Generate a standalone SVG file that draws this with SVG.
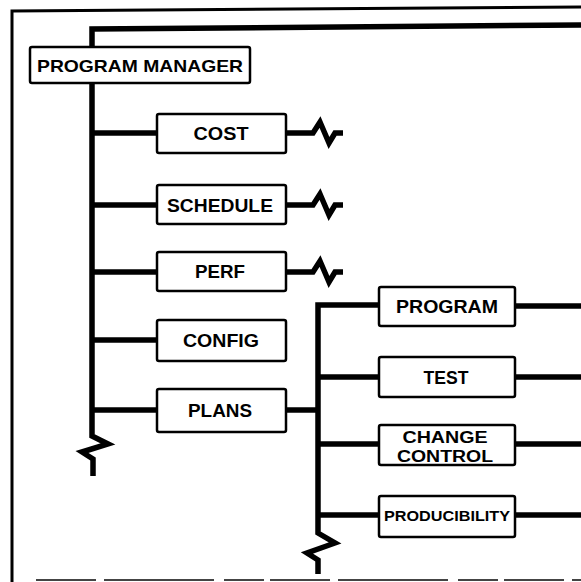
<svg xmlns="http://www.w3.org/2000/svg" width="581" height="582" viewBox="0 0 581 582">
<style>
.box{fill:#fff;stroke:#000;stroke-width:2.5}
.lbl{font-family:"Liberation Sans",Arial,sans-serif;font-weight:bold;font-size:18px;fill:#000;text-anchor:middle}
.s17{font-size:17px}
.s16{font-size:16px}
.s15{font-size:15px}
.ln{fill:none;stroke:#000;stroke-width:5.5;stroke-linejoin:miter;stroke-linecap:butt}
.thin{fill:none;stroke:#000;stroke-width:3}
</style>
<rect width="581" height="582" fill="#fff"/>
<g id="frame">
<path class="thin" d="M12,582 V11 L581,7"/>
<path d="M36,580 H581" stroke="#444" stroke-width="2" stroke-dasharray="60,8,110,10,40,6"/>
</g>
<g id="connectors">
<path class="ln" d="M581,25 L92,29 V436 L108,444 L82,452 L93,459 V476"/>
<path class="ln" d="M92,133 H157"/>
<path class="ln" d="M92,205 H157"/>
<path class="ln" d="M92,272 H157"/>
<path class="ln" d="M92,340 H157"/>
<path class="ln" d="M92,410 H157"/>
<path class="ln" d="M286,133 H313 L320,122 L329,143 L335,133 H343"/>
<path class="ln" d="M286,205 H313 L320,194 L329,215 L335,205 H343"/>
<path class="ln" d="M286,272 H313 L320,261 L329,282 L335,272 H343"/>
<path class="ln" stroke-width="4.5" d="M286,410 H318"/>
<path class="ln" d="M379,305 H318 V533 L335,543 L307,553 L318,560 V574"/>
<path class="ln" d="M318,377 H379"/>
<path class="ln" d="M318,444 H379"/>
<path class="ln" d="M318,515 H379"/>
<path class="ln" d="M515,306 H581"/>
<path class="ln" d="M515,377 H581"/>
<path class="ln" d="M515,444 H581"/>
<path class="ln" d="M515,515 H581"/>
</g>
<g id="program-manager">
<rect class="box" x="30" y="47" width="220" height="36" rx="2"/>
<text class="lbl s17" x="140" y="71.5" textLength="206" lengthAdjust="spacingAndGlyphs">PROGRAM MANAGER</text>
</g>
<g id="cost">
<rect class="box" x="157" y="114" width="129" height="39" rx="2"/>
<text class="lbl" x="221" y="140" textLength="55" lengthAdjust="spacingAndGlyphs">COST</text>
</g>
<g id="schedule">
<rect class="box" x="157" y="185" width="129" height="39" rx="2"/>
<text class="lbl" x="220" y="212" textLength="106" lengthAdjust="spacingAndGlyphs">SCHEDULE</text>
</g>
<g id="perf">
<rect class="box" x="157" y="252" width="129" height="39" rx="2"/>
<text class="lbl" x="220" y="278" textLength="50" lengthAdjust="spacingAndGlyphs">PERF</text>
</g>
<g id="config">
<rect class="box" x="157" y="320" width="129" height="41" rx="2"/>
<text class="lbl" x="221" y="347" textLength="76" lengthAdjust="spacingAndGlyphs">CONFIG</text>
</g>
<g id="plans">
<rect class="box" x="157" y="389" width="129" height="43" rx="2"/>
<text class="lbl" x="220" y="417" textLength="64" lengthAdjust="spacingAndGlyphs">PLANS</text>
</g>
<g id="program">
<rect class="box" x="379" y="287" width="136" height="39" rx="2"/>
<text class="lbl" x="447" y="313" textLength="102" lengthAdjust="spacingAndGlyphs">PROGRAM</text>
</g>
<g id="test">
<rect class="box" x="379" y="357" width="136" height="40" rx="2"/>
<text class="lbl" x="446" y="384" textLength="45" lengthAdjust="spacingAndGlyphs">TEST</text>
</g>
<g id="change-control">
<rect class="box" x="379" y="425" width="136" height="40" rx="2"/>
<text class="lbl s16" x="445" y="443" textLength="85" lengthAdjust="spacingAndGlyphs">CHANGE</text>
<text class="lbl s16" x="445" y="461.5" textLength="96" lengthAdjust="spacingAndGlyphs">CONTROL</text>
</g>
<g id="producibility">
<rect class="box" x="379" y="496" width="136" height="41" rx="2"/>
<text class="lbl s15" x="447" y="521" textLength="126" lengthAdjust="spacingAndGlyphs">PRODUCIBILITY</text>
</g>
</svg>
